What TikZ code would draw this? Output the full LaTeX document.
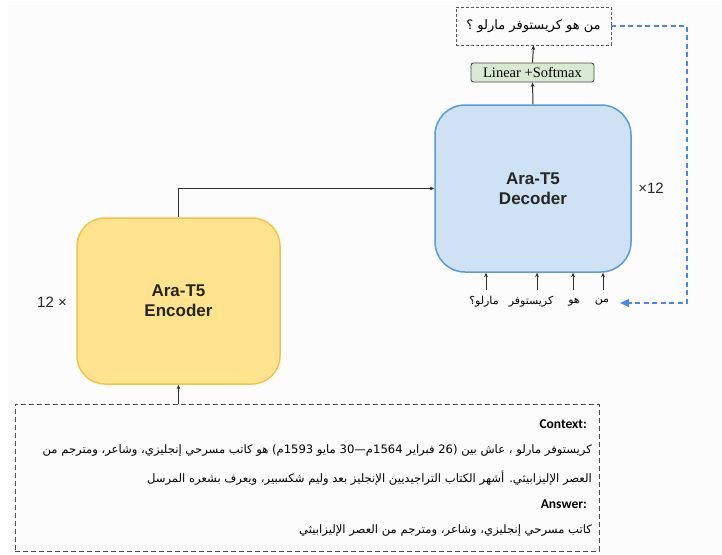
\documentclass[tikz,border=0pt]{standalone}
\usepackage{fontspec}
\setmainfont{Liberation Sans}
\newfontfamily\serifrm{Liberation Serif}
\newfontfamily\calib{Carlito}
\newfontfamily\arabicfont[Script=Arabic]{DejaVu Sans}
\TeXXeTstate=1
\usetikzlibrary{arrows.meta}
\definecolor{encfill}{HTML}{FFE38F}
\definecolor{encline}{HTML}{F4C44A}
\definecolor{decfill}{HTML}{CFE2F3}
\definecolor{decline}{HTML}{5B9BD5}
\definecolor{linfill}{HTML}{D9EAD3}
\definecolor{fbblue}{HTML}{4A86E8}
\definecolor{inkgrey}{HTML}{2E2E2E}
\definecolor{paper}{HTML}{FCFCFC}
\begin{document}
\begin{tikzpicture}[x=1pt,y=-1pt,
  block/.style={draw, line width=1.5pt, align=center, inner sep=0pt,
    font=\fontsize{17}{20}\selectfont\bfseries, text=black!85},
  arr/.style={draw=inkgrey, line width=1pt, -{Stealth[length=4.5pt,width=3.8pt]}},
  fb/.style={draw=fbblue, line width=1.3pt, dash pattern=on 5pt off 3.5pt,
    -{Triangle[length=9pt,width=8pt]}},
  dashbox/.style={draw=black!65, line width=0.9pt, dash pattern=on 3pt off 2pt},
  ctxbox/.style={draw=black!70, line width=1pt, dash pattern=on 5pt off 3pt},
  reps/.style={font=\fontsize{15}{15}\selectfont, text=black!85},
  tok/.style={font=\arabicfont\fontsize{11}{13}\selectfont, inner sep=0pt},
  ctxline/.style={font=\arabicfont\fontsize{11.6}{13}\selectfont, inner sep=0pt, anchor=east},
  ctxhead/.style={font=\calib\fontsize{13.5}{15}\selectfont\bfseries, inner sep=0pt, anchor=east}
]
\useasboundingbox (0,0) rectangle (722,554);
\fill[paper] (8,5) rectangle (722,554);

% encoder and decoder stacks
\node[block, fill=encfill, draw=encline, minimum width=203pt, minimum height=166pt,
  rounded corners=28pt] (enc) at (178.5,301) {Ara-T5\\Encoder};
\node[block, fill=decfill, draw=decline, minimum width=196pt, minimum height=167pt,
  rounded corners=30pt] (dec) at (533,188.5) {Ara-T5\\Decoder};
\node[reps] (encrep) at (52,302) {12 ×};
\node[reps] (decrep) at (651,188) {×12};

% output head and generated question
\node[draw=black!70, fill=linfill, line width=0.9pt, rounded corners=2.5pt,
  minimum width=123pt, minimum height=19pt, inner sep=0pt,
  font=\serifrm\fontsize{14.5}{15}\selectfont] (lin) at (532.5,72.5) {Linear +Softmax};
\node[dashbox, minimum width=155pt, minimum height=38pt, inner sep=0pt,
  font=\arabicfont\fontsize{13}{15}\selectfont] (out) at (533.5,26)
  {\beginR من هو كريستوفر مارلو ؟\endR};

% decoder input tokens
\node[tok] (t1) at (484,302) {\beginR مارلو؟\endR};
\node[tok] (t2) at (531,302) {\beginR كريستوفر\endR};
\node[tok] (t3) at (574,302) {\beginR هو\endR};
\node[tok] (t4) at (602,302) {\beginR من\endR};
\coordinate (a1) at (486,290);
\coordinate (a2) at (537,290);
\coordinate (a3) at (573,290);
\coordinate (a4) at (603,290);

% context / answer input
\node[ctxbox, minimum width=584pt, minimum height=147pt] (ctx) at (307,477.5) {};
\node[ctxhead] (chead) at (587,424) {Context:};
\node[ctxline] (c1) at (592,451)
  {\beginR كريستوفر مارلو ، عاش بين (26 فبراير 1564م—30 مايو 1593م) هو كاتب مسرحي إنجليزي، وشاعر، ومترجم من\endR};
\node[ctxline] (c2) at (592,478)
  {\beginR العصر الإليزابيثي. أشهر الكتاب التراجيديين الإنجليز بعد وليم شكسبير، ويعرف بشعره المرسل\endR};
\node[ctxhead] (ahead) at (587,504) {Answer:};
\node[ctxline] (c3) at (592,531)
  {\beginR كاتب مسرحي إنجليزي، وشاعر، ومترجم من العصر الإليزابيثي\endR};

% connectors
\draw[arr] (enc.south |- ctx.north) -- (enc.south);
\draw[arr] (enc.north) |- (dec.west);
\draw[arr] (dec.north) -- (lin.south);
\draw[arr] (lin.north) -- (out.south);
\foreach \a in {a1,a2,a3,a4} \draw[arr] (\a) -- (\a |- dec.south);
\coordinate (fbc) at (687,303);
\coordinate (fbend) at (620,303);
\draw[fb] (out.east) -| (fbc) -- (fbend);
\end{tikzpicture}
\end{document}
